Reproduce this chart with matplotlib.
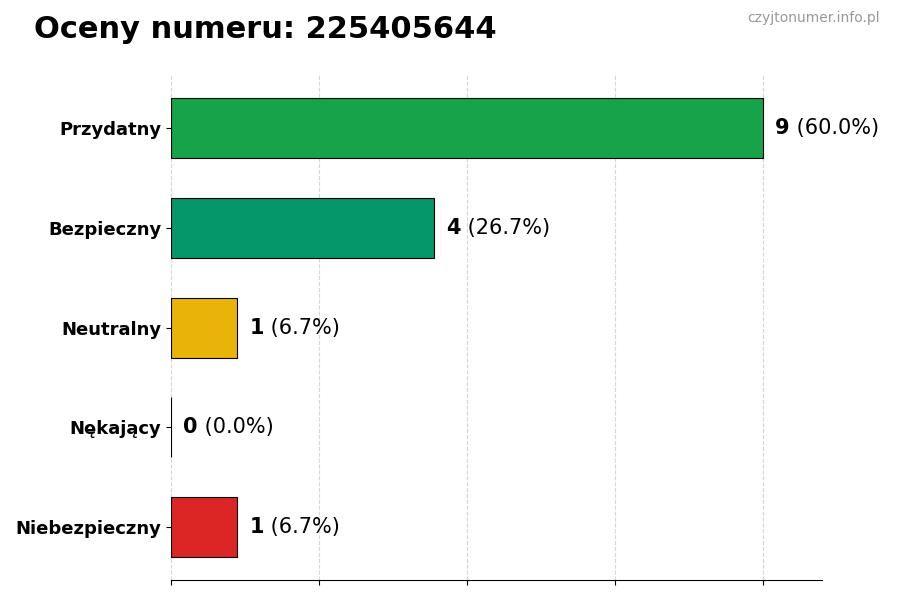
import matplotlib.pyplot as plt

# Dane
kategorie = ['Przydatny', 'Bezpieczny', 'Neutralny', 'Nękający', 'Niebezpieczny']
liczby = [9, 4, 1, 0, 1]
kolory = ['#16a34a', '#059669', '#eab308', '#f97316', '#dc2626']
numer = '225405644'

suma = sum(liczby)
procenty = [100 * v / suma for v in liczby]
maks = max(liczby)

fig = plt.figure(figsize=(9, 6), dpi=100)
ax = fig.add_axes([0.19, 0.033, 0.723, 0.842])

pozycje = list(range(len(kategorie)))
ax.barh(pozycje, liczby, height=0.6, color=kolory, edgecolor='black',
        linewidth=0.8)
ax.set_yticks(pozycje)
ax.set_yticklabels(kategorie, fontsize=13, fontweight='bold')
ax.set_ylim(len(kategorie) - 0.47, -0.53)
ax.set_xlim(0, maks * 1.1)
ax.set_xticks([maks * i / 4 for i in range(5)])
ax.set_xticklabels([])

for sp in ['top', 'right', 'left']:
    ax.spines[sp].set_visible(False)
ax.grid(axis='x', linestyle='--', color='#cccccc', alpha=0.8)
ax.set_axisbelow(True)

for y, v, p in zip(pozycje, liczby, procenty):
    t = ax.annotate(str(v), xy=(v, y), xytext=(9, 0), textcoords='offset points',
                    va='center', ha='left', fontsize=15, fontweight='bold')
    ax.annotate(f' ({p:.1f}%)', xy=(1, 0.5), xycoords=t, va='center', ha='left',
                fontsize=15)

fig.text(0.038, 0.95, f'Oceny numeru: {numer}', fontsize=22, fontweight='bold',
         ha='left', va='center')
fig.text(0.978, 0.97, 'czyjtonumer.info.pl', fontsize=10, color='#999999',
         ha='right', va='center')

plt.savefig('out.png', dpi=100)
